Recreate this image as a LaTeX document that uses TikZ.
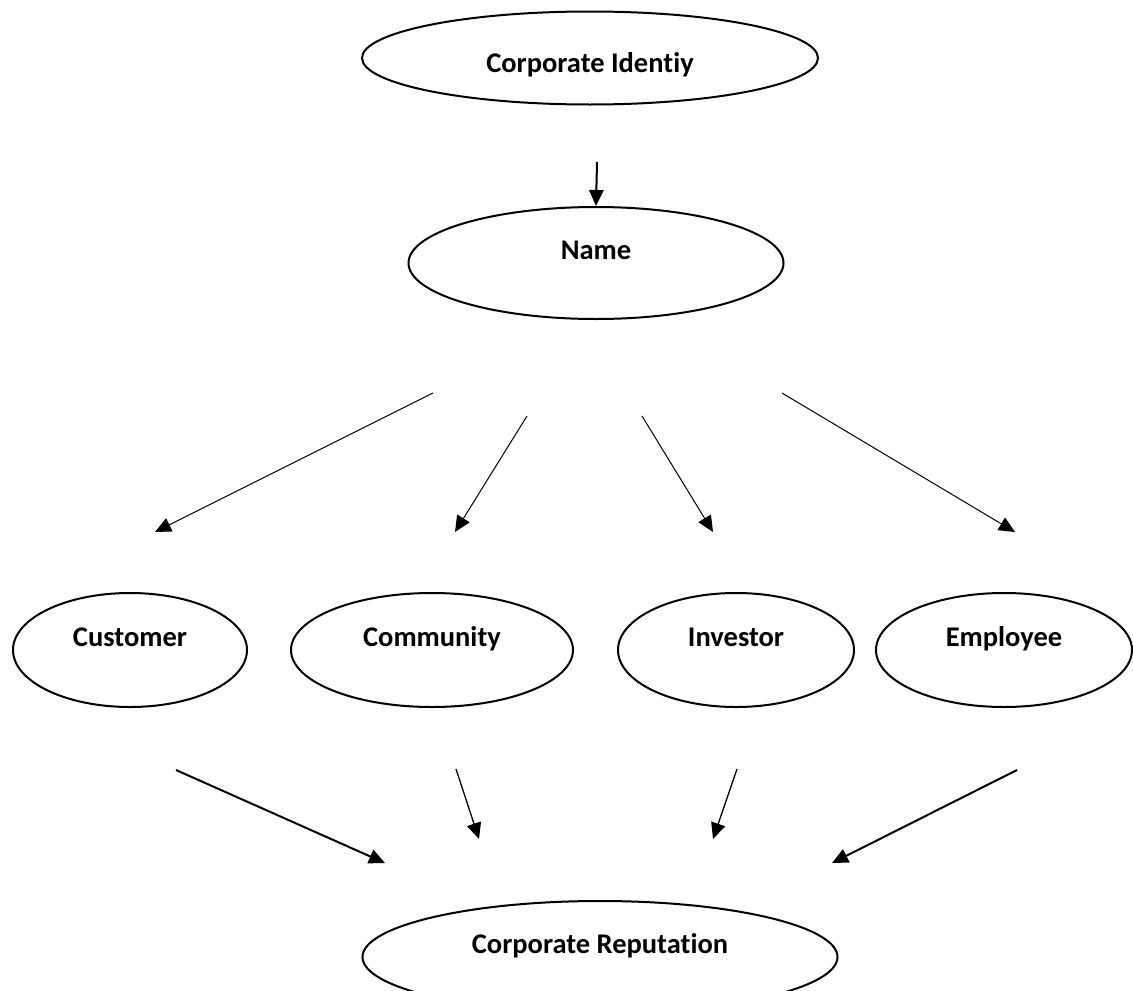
\documentclass[tikz,border=0pt]{standalone}
\usepackage{fontspec}
\setmainfont{Carlito}[Ligatures=NoCommon]
\usetikzlibrary{arrows.meta,shapes.geometric,positioning}

\begin{document}
\begin{tikzpicture}[->,>={Triangle[length=16pt,width=14.5pt]},x=1pt,y=-1pt,
		node distance=300pt,
		stake/.style={ellipse,draw,line width=2pt,inner sep=0pt,text height=20pt,text depth=28pt,
			font=\bfseries\fontsize{28.5}{34}\selectfont},
		thin arrow/.style={line width=1pt},
		mid arrow/.style={line width=1.3pt},
		thick arrow/.style={line width=2pt}]

		\path[use as bounding box,fill=white] (0,0) rectangle (1133,991);

		% identity and name
		\node[stake,minimum width=456pt,minimum height=93pt,text height=34pt,text depth=6pt] (identity) at (590,58) {Corporate Identiy};
		\node[stake,minimum width=375pt,minimum height=112pt,node distance=205pt,below of=identity,xshift=6pt] (name) {Name};

		% the four stakeholders
		\node[stake,minimum width=234pt,minimum height=114pt] (customer) at (130,650) {Customer};
		\node[stake,minimum width=282pt,minimum height=114pt,node distance=302pt,right of=customer] (community) {Community};
		\node[stake,minimum width=236pt,minimum height=114pt,node distance=304pt,right of=community] (investor) {Investor};
		\node[stake,minimum width=256pt,minimum height=114pt,node distance=268pt,right of=investor] (employee) {Employee};

		\node[stake,minimum width=475pt,minimum height=112pt] (reputation) at (600,957) {Corporate Reputation};

		% arrow ends
		\coordinate (idfoot) at (597,162);
		\coordinate (n1) at (433,393);
		\coordinate (n2) at (527,416);
		\coordinate (n3) at (642,416);
		\coordinate (n4) at (782,393);
		\coordinate (c1) at (155,532);
		\coordinate (c2) at (455,532);
		\coordinate (c3) at (713,532);
		\coordinate (c4) at (1015,532);
		\coordinate (r1) at (176,770);
		\coordinate (r2) at (456,769);
		\coordinate (r3) at (737,769);
		\coordinate (r4) at (1017,770);
		\coordinate (t1) at (385,863);
		\coordinate (t2) at (479,839);
		\coordinate (t3) at (713,839);
		\coordinate (t4) at (832,863);

		\draw[thick arrow] (idfoot) -- (name.north);

		\foreach \s/\t in {n1/c1,n2/c2,n3/c3,n4/c4}
			\draw[thin arrow] (\s) -- (\t);

		\draw[thick arrow] (r1) -- (t1);
		\draw[mid arrow] (r2) -- (t2);
		\draw[mid arrow] (r3) -- (t3);
		\draw[thick arrow] (r4) -- (t4);
	\end{tikzpicture}
\end{document}
